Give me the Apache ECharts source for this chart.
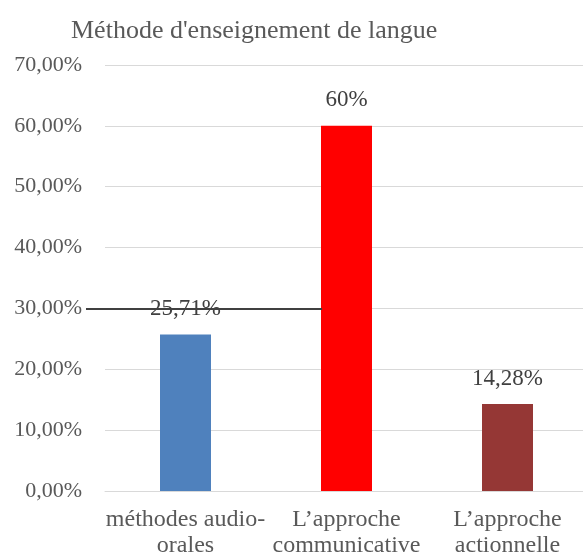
<!DOCTYPE html>
<html>
<head>
<meta charset="utf-8">
<script src="https://cdn.jsdelivr.net/npm/echarts@6/dist/echarts.min.js"></script>
<style>
  html, body { margin: 0; padding: 0; background: #fff; }
  #chart { width: 583px; height: 555px; }
</style>
</head>
<body>
<div id="chart"></div>
<script>
const categories = ["méthodes audio-\norales", "L\u2019approche\ncommunicative", "L\u2019approche\nactionnelle"];
const values = [25.71, 60, 14.28];
const valueLabels = ["25,71%", "60%", "14,28%"];
const barColors = ["#4f81bd", "#ff0000", "#953735"];
const yTicks = [0, 10, 20, 30, 40, 50, 60, 70];

const font = "'Liberation Serif', 'Times New Roman', serif";
const chart = echarts.init(document.getElementById("chart"));

chart.setOption({
  animation: false,
  title: {
    text: "Méthode d'enseignement de langue",
    left: 66,
    top: 13,
    textStyle: { fontFamily: font, fontSize: 26, fontWeight: "normal", color: "#595959" }
  },
  grid: { left: 105, right: -5, top: 65, bottom: 64, outerBoundsMode: "none", containLabel: false },
  xAxis: {
    type: "category",
    data: categories,
    axisTick: { show: false },
    axisLine: { lineStyle: { color: "#d9d9d9", width: 1 } },
    axisLabel: {
      fontFamily: font, fontSize: 24, color: "#595959",
      margin: 16, lineHeight: 26, interval: 0
    }
  },
  yAxis: {
    type: "value",
    min: yTicks[0],
    max: yTicks[yTicks.length - 1],
    interval: 10,
    axisLine: { show: false },
    axisTick: { show: false },
    splitLine: { lineStyle: { color: "#d9d9d9", width: 1 } },
    axisLabel: {
      fontFamily: font, fontSize: 22, color: "#595959", margin: 23,
      formatter: v => v.toFixed(2).replace(".", ",") + "%"
    }
  },
  series: [{
    type: "bar",
    barWidth: 51,
    data: values.map((v, i) => ({ value: v, itemStyle: { color: barColors[i] } })),
    label: {
      show: true,
      position: "top",
      distance: 14,
      fontFamily: font, fontSize: 23, color: "#404040",
      formatter: p => valueLabels[p.dataIndex]
    },
    markLine: {
      silent: true,
      symbol: "none",
      label: { show: false },
      lineStyle: { color: "#404040", width: 2, type: "solid" },
      data: [[{ x: 86, yAxis: 30 }, { x: 322, yAxis: 30 }]]
    }
  }]
});
</script>
</body>
</html>
